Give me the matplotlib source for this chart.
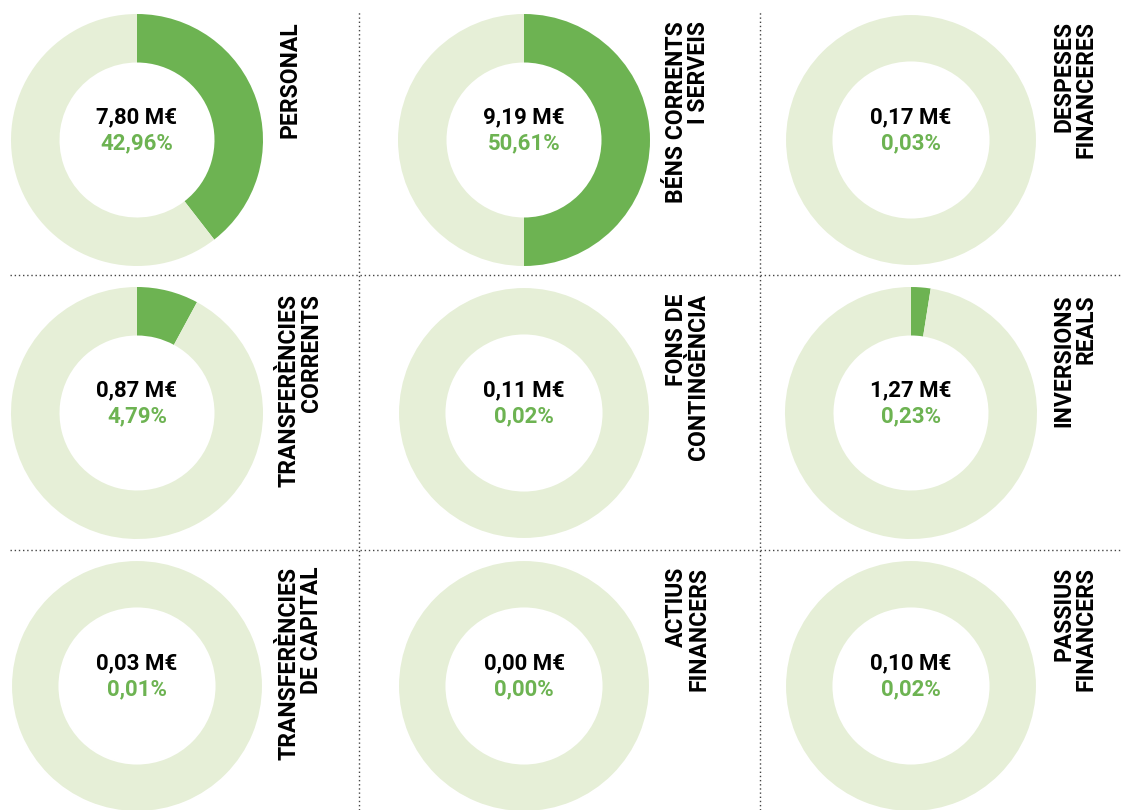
import matplotlib.pyplot as plt

plt.rcParams['font.family'] = ['Roboto', 'DejaVu Sans']

names = ["PERSONAL", "BÉNS CORRENTS\nI SERVEIS", "DESPESES\nFINANCERES",
         "TRANSFERÈNCIES\nCORRENTS", "FONS DE\nCONTINGÈNCIA", "INVERSIONS\nREALS",
         "TRANSFERÈNCIES\nDE CAPITAL", "ACTIUS\nFINANCERS", "PASSIUS\nFINANCERS"]
amounts = ["7,80", "9,19", "0,17", "0,87", "0,11", "1,27", "0,03", "0,00", "0,10"]
percents = ["42,96", "50,61", "0,03", "4,79", "0,02", "0,23", "0,01", "0,00", "0,02"]
arc_share = [39.5, 50.0, 0, 7.9, 0, 2.5, 0, 0, 0]

dark = '#6db352'
light = '#e6efd7'

fig = plt.figure(figsize=(11.25, 8.1), dpi=100)
ax = fig.add_axes([0, 0, 1, 1])

# layout in pixels (y measured upward)
col_x = [137, 524, 911]
row_y = [670, 397, 124]
r_out, r_in = 126, 77.5

for i in range(9):
    cx = col_x[i % 3]
    cy = row_y[i // 3]
    s = arc_share[i]
    lw = 1.5 if s == 0 else 0
    ax.pie([s, 100 - s], radius=r_out, center=(cx, cy), startangle=90,
           counterclock=False, colors=[dark, light],
           wedgeprops=dict(width=r_out - r_in, edgecolor='white', linewidth=lw))
    ax.text(cx, cy + 23, amounts[i] + " M€", ha='center', va='center',
            fontsize=16, fontweight='bold', color='black')
    ax.text(cx, cy - 3, percents[i] + "%", ha='center', va='center',
            fontsize=16, fontweight='bold', color=dark)
    ax.text(cx + 141, cy + 119, names[i], rotation=90, ha='left', va='top',
            multialignment='right', fontsize=16.5, fontweight='bold',
            linespacing=0.95, color='black')

# dotted separators
for x in [359, 760]:
    ax.plot([x, x], [0, 800], ls=(0, (1, 2)), lw=1, color='#444444')
for y in [535, 260]:
    ax.plot([10, 1120], [y, y], ls=(0, (1, 2)), lw=1, color='#444444')

ax.set_xlim(0, 1125)
ax.set_ylim(0, 810)
ax.set_aspect('equal')
ax.axis('off')

fig.savefig('out.png', dpi=100)
